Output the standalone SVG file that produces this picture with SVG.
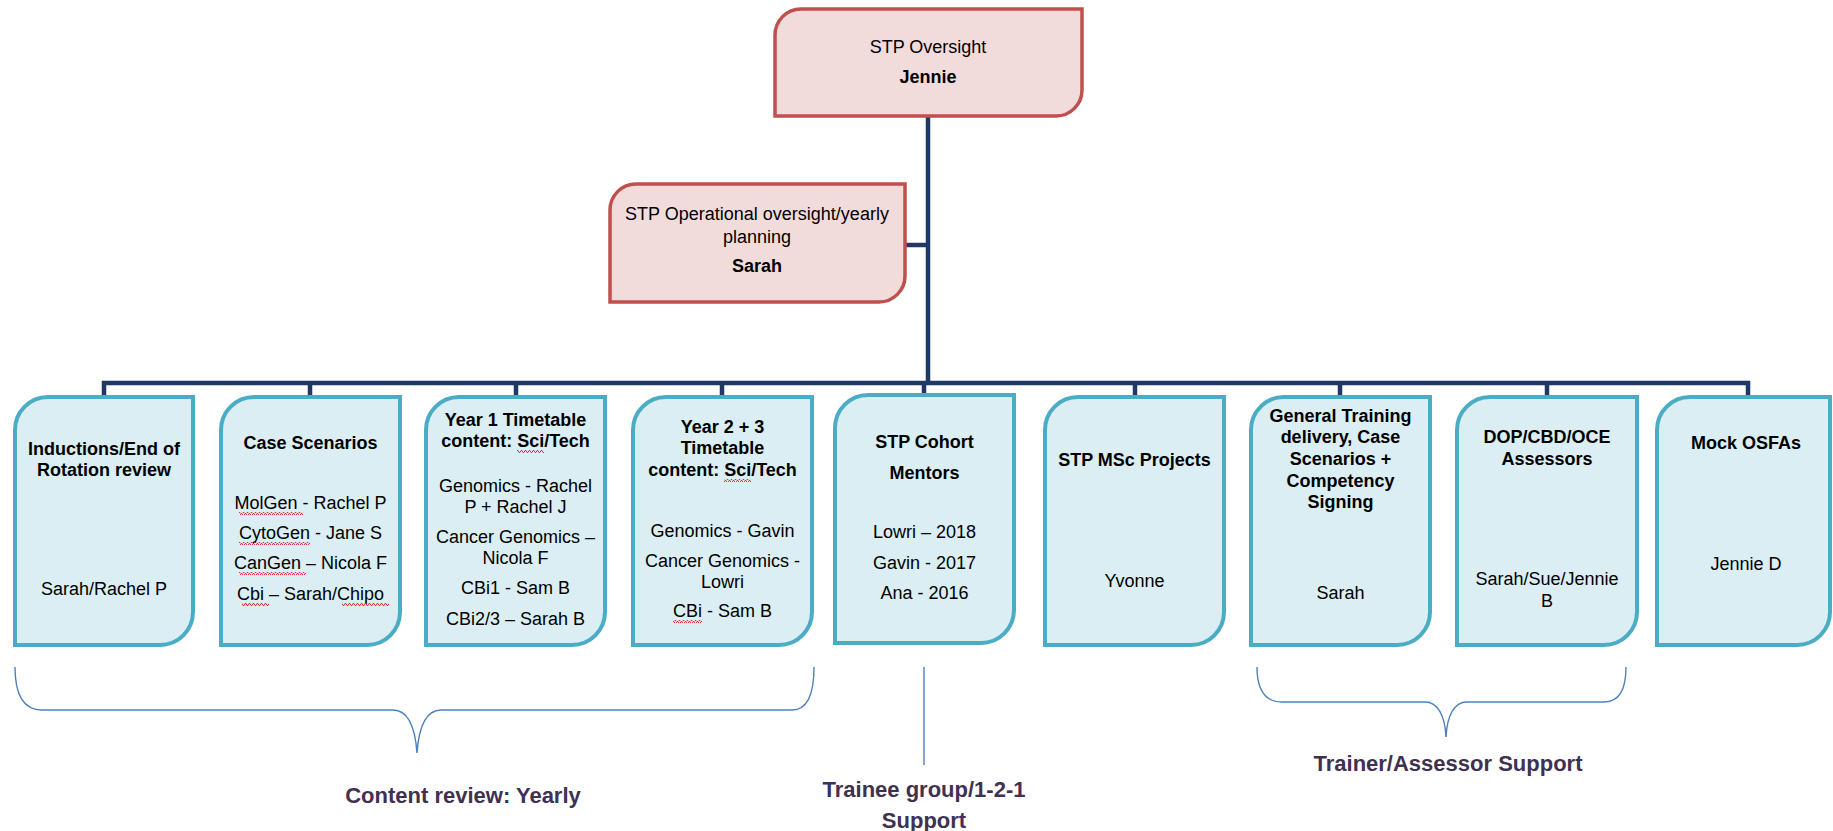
<svg xmlns="http://www.w3.org/2000/svg" width="1833" height="831" viewBox="0 0 1833 831">
<defs>
<style>
.red{fill:#F2DCDB;stroke:#C0504D;stroke-width:3.5}
.blue{fill:#DAEEF3;stroke:#4BACC6;stroke-width:4}
.t{font-family:"Liberation Sans",Arial,sans-serif;font-size:18px;fill:#000;text-anchor:middle}
.b{font-weight:bold}
.conn{fill:none;stroke:#1F3864;stroke-width:4.5}
.br{fill:none;stroke:#4F81BD;stroke-width:1.4}
.lab{font-family:"Liberation Sans",Arial,sans-serif;font-size:22px;font-weight:bold;fill:#3F3151;text-anchor:middle}
.sq{fill:url(#wave)}
</style>
<pattern id="wave" width="4" height="3" patternUnits="userSpaceOnUse">
<path d="M0,2.5 L1,0.5 L2,0.5 L3,2.5 L4,2.5" fill="none" stroke="#E02020" stroke-width="0.9"/>
</pattern>
</defs>
<rect width="1833" height="831" fill="#fff"/>

<g id="connectors">
<path class="conn" d="M928,116 L928,383"/>
<path class="conn" d="M905,245 L928,245"/>
<path class="conn" d="M104,397 L104,383 L1748,383 L1748,397"/>
<path class="conn" d="M310,383 L310,397"/>
<path class="conn" d="M516,383 L516,397"/>
<path class="conn" d="M722,383 L722,397"/>
<path class="conn" d="M924,383 L924,395"/>
<path class="conn" d="M1135,383 L1135,397"/>
<path class="conn" d="M1340,383 L1340,397"/>
<path class="conn" d="M1547,383 L1547,397"/>
</g>

<g id="n-oversight">
<path class="red" d="M775,116 L775,35 A26,26 0 0 1 801,9 L1082,9 L1082,90 A26,26 0 0 1 1056,116 Z"/>
<text class="t" x="928" y="53">STP Oversight</text>
<text class="t b" x="928" y="83">Jennie</text>
</g>

<g id="n-operational">
<path class="red" d="M610,302 L610,210 A26,26 0 0 1 636,184 L905,184 L905,276 A26,26 0 0 1 879,302 Z"/>
<text class="t" x="757" y="220">STP Operational oversight/yearly</text>
<text class="t" x="757" y="243">planning</text>
<text class="t b" x="757" y="272">Sarah</text>
</g>

<g id="n-inductions">
<path class="blue" d="M15,645 L15,430 A33,33 0 0 1 48,397 L193,397 L193,612 A33,33 0 0 1 160,645 Z"/>
<text class="t b" x="104" y="455">Inductions/End of</text>
<text class="t b" x="104" y="476">Rotation review</text>
<text class="t" x="104" y="595">Sarah/Rachel P</text>
</g>

<g id="n-case">
<path class="blue" d="M221,645 L221,430 A33,33 0 0 1 254,397 L400,397 L400,612 A33,33 0 0 1 367,645 Z"/>
<text class="t b" x="310.5" y="449">Case Scenarios</text>
<text class="t" x="310.5" y="509">MolGen - Rachel P</text>
<text class="t" x="310.5" y="539">CytoGen - Jane S</text>
<text class="t" x="310.5" y="569">CanGen – Nicola F</text>
<text class="t" x="310.5" y="600">Cbi – Sarah/Chipo</text>
<rect class="sq" x="239" y="512" width="64" height="3"/>
<rect class="sq" x="239" y="542" width="71" height="3"/>
<rect class="sq" x="239" y="572" width="67" height="3"/>
<rect class="sq" x="242" y="603" width="27" height="3"/>
<rect class="sq" x="342" y="603" width="47" height="3"/>
</g>

<g id="n-year1">
<path class="blue" d="M426,645 L426,430 A33,33 0 0 1 459,397 L605,397 L605,612 A33,33 0 0 1 572,645 Z"/>
<text class="t b" x="515.5" y="426">Year 1 Timetable</text>
<text class="t b" x="515.5" y="447">content: Sci/Tech</text>
<text class="t" x="515.5" y="492">Genomics - Rachel</text>
<text class="t" x="515.5" y="513">P + Rachel J</text>
<text class="t" x="515.5" y="543">Cancer Genomics –</text>
<text class="t" x="515.5" y="564">Nicola F</text>
<text class="t" x="515.5" y="594">CBi1 - Sam B</text>
<text class="t" x="515.5" y="625">CBi2/3 – Sarah B</text>
<rect class="sq" x="517" y="450" width="27" height="3"/>
</g>

<g id="n-year23">
<path class="blue" d="M633,645 L633,430 A33,33 0 0 1 666,397 L812,397 L812,612 A33,33 0 0 1 779,645 Z"/>
<text class="t b" x="722.5" y="433">Year 2 + 3</text>
<text class="t b" x="722.5" y="454">Timetable</text>
<text class="t b" x="722.5" y="476">content: Sci/Tech</text>
<text class="t" x="722.5" y="537">Genomics - Gavin</text>
<text class="t" x="722.5" y="567">Cancer Genomics -</text>
<text class="t" x="722.5" y="588">Lowri</text>
<text class="t" x="722.5" y="617">CBi - Sam B</text>
<rect class="sq" x="724" y="479" width="27" height="3"/>
<rect class="sq" x="673" y="620" width="29" height="3"/>
</g>

<g id="n-mentors">
<path class="blue" d="M835,643 L835,428 A33,33 0 0 1 868,395 L1014,395 L1014,610 A33,33 0 0 1 981,643 Z"/>
<text class="t b" x="924.5" y="448">STP Cohort</text>
<text class="t b" x="924.5" y="479">Mentors</text>
<text class="t" x="924.5" y="538">Lowri – 2018</text>
<text class="t" x="924.5" y="569">Gavin - 2017</text>
<text class="t" x="924.5" y="599">Ana - 2016</text>
</g>

<g id="n-msc">
<path class="blue" d="M1045,645 L1045,430 A33,33 0 0 1 1078,397 L1224,397 L1224,612 A33,33 0 0 1 1191,645 Z"/>
<text class="t b" x="1134.5" y="466">STP MSc Projects</text>
<text class="t" x="1134.5" y="587">Yvonne</text>
</g>

<g id="n-general">
<path class="blue" d="M1251,645 L1251,430 A33,33 0 0 1 1284,397 L1430,397 L1430,612 A33,33 0 0 1 1397,645 Z"/>
<text class="t b" x="1340.5" y="422">General Training</text>
<text class="t b" x="1340.5" y="443">delivery, Case</text>
<text class="t b" x="1340.5" y="465">Scenarios +</text>
<text class="t b" x="1340.5" y="487">Competency</text>
<text class="t b" x="1340.5" y="508">Signing</text>
<text class="t" x="1340.5" y="599">Sarah</text>
</g>

<g id="n-assessors">
<path class="blue" d="M1457,645 L1457,430 A33,33 0 0 1 1490,397 L1637,397 L1637,612 A33,33 0 0 1 1604,645 Z"/>
<text class="t b" x="1547" y="443">DOP/CBD/OCE</text>
<text class="t b" x="1547" y="465">Assessors</text>
<text class="t" x="1547" y="585">Sarah/Sue/Jennie</text>
<text class="t" x="1547" y="607">B</text>
</g>

<g id="n-mock">
<path class="blue" d="M1657,645 L1657,430 A33,33 0 0 1 1690,397 L1830,397 L1830,612 A33,33 0 0 1 1797,645 Z"/>
<text class="t b" x="1746" y="449">Mock OSFAs</text>
<text class="t" x="1746" y="570">Jennie D</text>
</g>

<g id="g-content">
<path class="br" d="M15,667 C15,696 24,710 42,710 L393,710 C407,710 415,725 417,753 C419,725 427,710 441,710 L792,710 C806,710 814,696 814,667"/>
<text class="lab" x="463" y="803">Content review: Yearly</text>
</g>

<g id="g-trainee">
<path class="br" d="M924,667 L924,765"/>
<text class="lab" x="924" y="797">Trainee group/1-2-1</text>
<text class="lab" x="924" y="828">Support</text>
</g>

<g id="g-trainer">
<path class="br" d="M1257,667 C1257,690 1265,702 1282,702 L1425,702 C1438,702 1445,716 1446,737 C1447,716 1454,702 1467,702 L1604,702 C1619,702 1626,690 1626,667"/>
<text class="lab" x="1448" y="771">Trainer/Assessor Support</text>
</g>
</svg>
